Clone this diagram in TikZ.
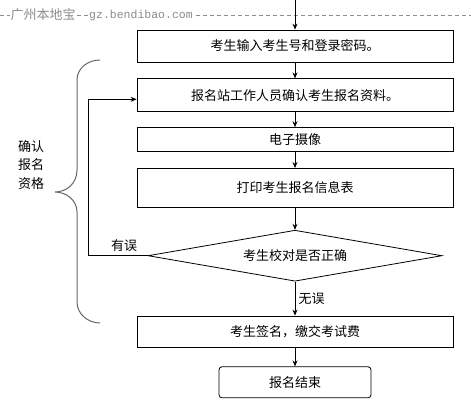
\documentclass[tikz,border=0pt]{standalone}
\usepackage{fontspec}
\setmainfont{Noto Sans CJK SC}
\newfontfamily\wmmono{Liberation Mono}
\usetikzlibrary{positioning,arrows.meta,shapes.geometric,calc}

\begin{document}
\begin{tikzpicture}[
    x = 1pt, y = 1pt,
    > = {Stealth[length=6pt,width=5pt]},
    line width = 0.8pt,
    node distance = 16pt,
    every node/.style = {font=\fontsize{13}{15}\selectfont},
    stepbox/.style = {rectangle, draw, minimum width=316pt, inner sep=0pt},
    check/.style = {diamond, draw, aspect=5.8, minimum width=294pt, minimum height=51pt, inner sep=0pt},
    endbox/.style = {rectangle, draw, rounded corners=3pt, minimum width=152pt, minimum height=31pt, inner sep=0pt},
    brace/.style = {draw=black!60, line width=1pt},
    wmark/.style = {text=black!45, fill=white, inner sep=1pt}
]
    \useasboundingbox (0,0) rectangle (471,-400);

    % watermark line
    \coordinate (wl) at (0,-15);
    \coordinate (wr) at (471,-15);
    \draw[black!45, line width=0.6pt, dash pattern=on 4pt off 3pt] (wl) -- (wr);
    \node[wmark] (wm1) at (43,-15) {广州本地宝};
    \node[wmark, font=\wmmono\fontsize{11.5}{13}\selectfont] (wm2) at (141,-16) {gz.bendibao.com};

    % flow
    \coordinate (top) at (295,0);
    \node[stepbox, minimum height=32pt] (input) at (295,-46) {考生输入考生号和登录密码。};
    \node[stepbox, minimum height=33pt, below=of input] (confirm) {报名站工作人员确认考生报名资料。};
    \node[stepbox, minimum height=24pt, below=15pt of confirm] (photo) {电子摄像};
    \node[stepbox, minimum height=39pt, below=of photo] (print) {打印考生报名信息表};
    \node[check, below=22pt of print] (chk) {考生校对是否正确};
    \node[stepbox, minimum height=31pt, below=34pt of chk] (sign) {考生签名，缴交考试费};
    \node[endbox, below=19pt of sign] (done) {报名结束};

    \draw[->] (top) -- (input);
    \draw[->] (input) -- (confirm);
    \draw[->] (confirm) -- (photo);
    \draw[->] (photo) -- (print);
    \draw[->] (print) -- (chk);
    \draw[->] (chk) -- node[right] {无误} (sign);
    \draw[->] (sign) -- (done);

    % back loop
    \coordinate (loop) at ($(chk.west)+(-59,0)$);
    \draw[->] (chk.west) -- node[above, pos=0.4] {有误} (loop) |- ([yshift=-4pt]confirm.west);

    % brace
    \draw[brace] (100,-60) .. controls (88,-60) and (77,-68) .. (77,-80) -- (77,-170)
        .. controls (77,-184) and (66,-192) .. (55,-192)
        .. controls (66,-192) and (77,-200) .. (77,-212) -- (77,-302)
        .. controls (77,-314) and (88,-323) .. (100,-323);
    \node[align=left, font=\fontsize{13}{18.5}\selectfont] (side) at (31,-165) {确认\\报名\\资格};
\end{tikzpicture}
\end{document}
